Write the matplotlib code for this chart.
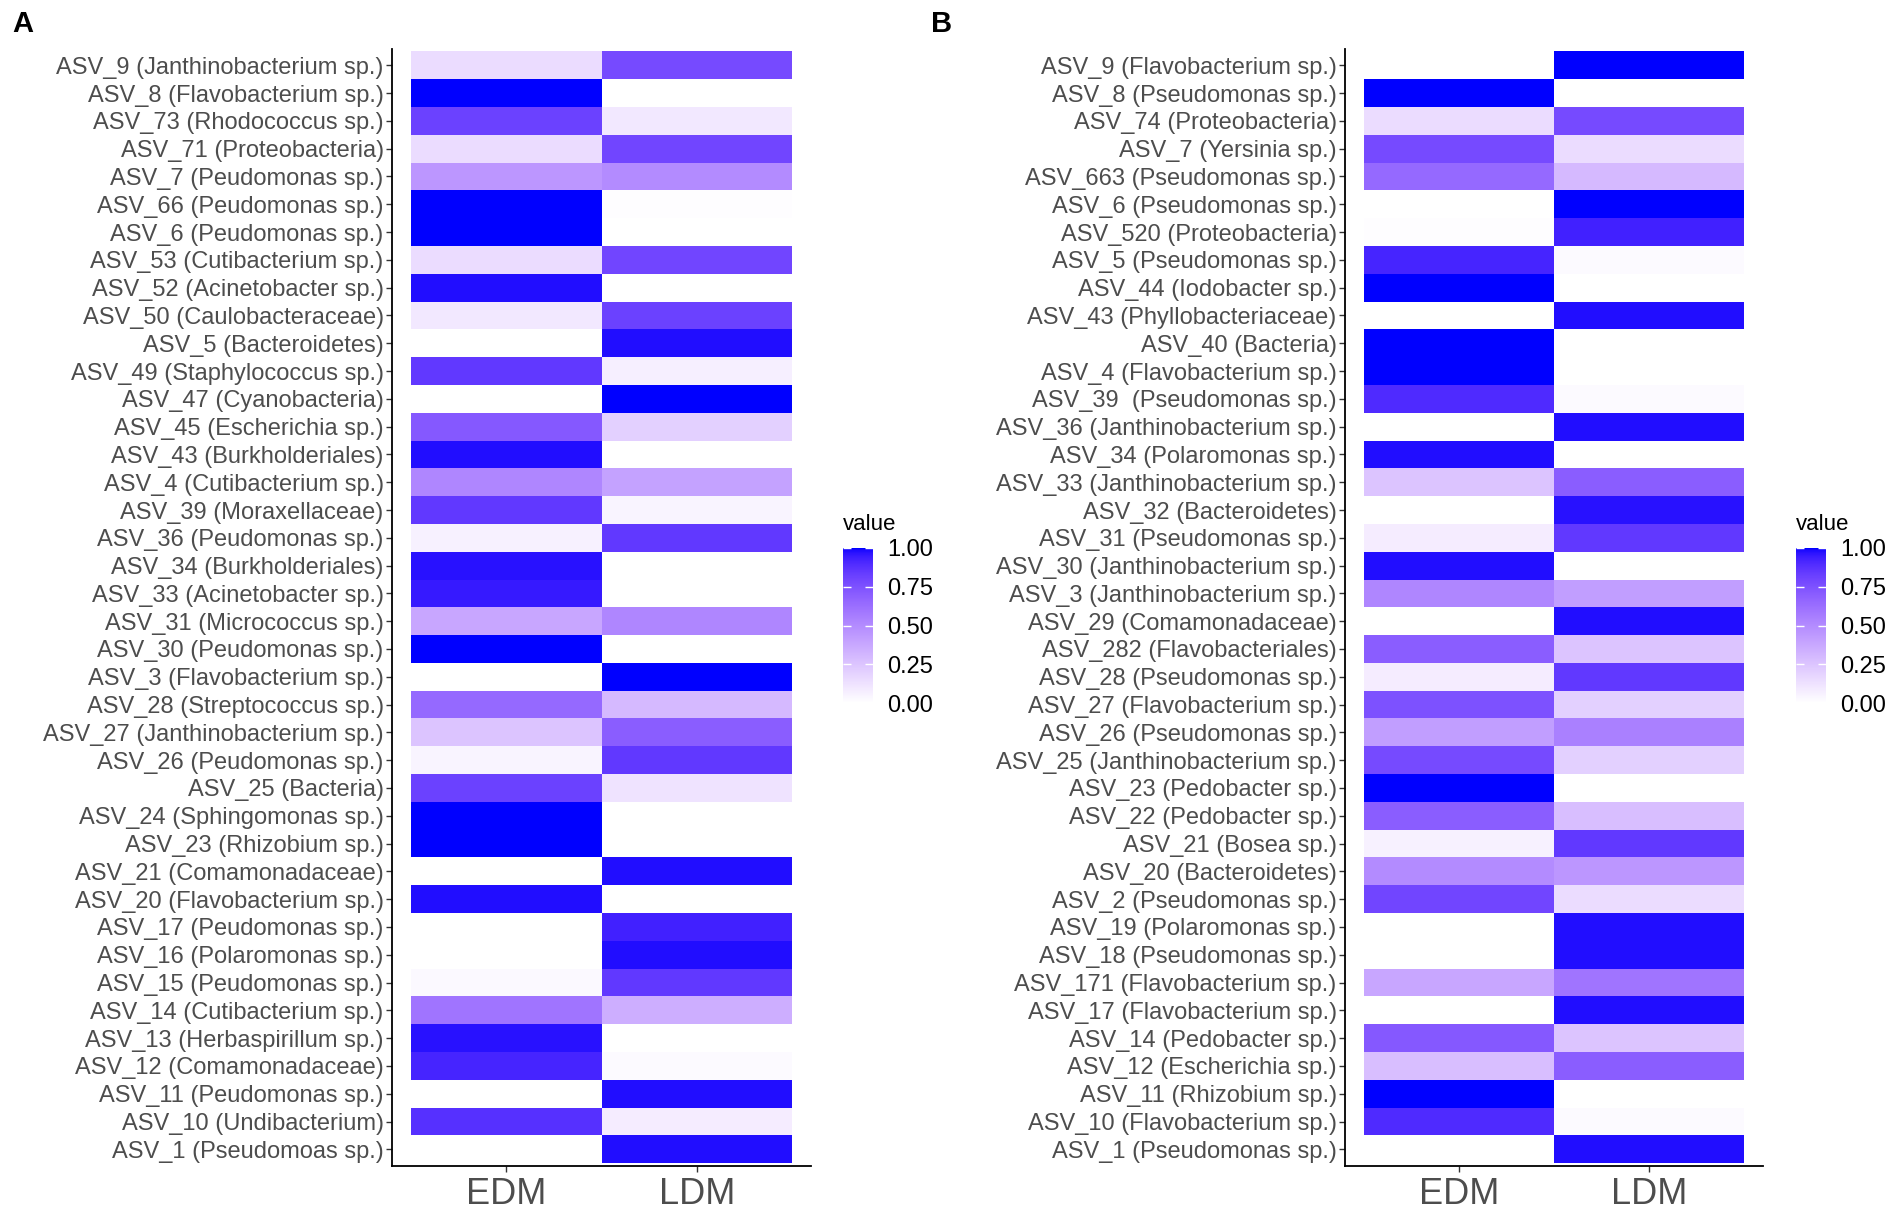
import numpy as np
import matplotlib
matplotlib.use('Agg')
import matplotlib.pyplot as plt
from matplotlib.colors import ListedColormap

plt.rcParams['font.family'] = ['Liberation Sans', 'DejaVu Sans']

# 数据：A 图
labels_a = [
    'ASV_9 (Janthinobacterium sp.)', 'ASV_8 (Flavobacterium sp.)', 'ASV_73 (Rhodococcus sp.)',
    'ASV_71 (Proteobacteria)', 'ASV_7 (Peudomonas sp.)', 'ASV_66 (Peudomonas sp.)',
    'ASV_6 (Peudomonas sp.)', 'ASV_53 (Cutibacterium sp.)', 'ASV_52 (Acinetobacter sp.)',
    'ASV_50 (Caulobacteraceae)', 'ASV_5 (Bacteroidetes)', 'ASV_49 (Staphylococcus sp.)',
    'ASV_47 (Cyanobacteria)', 'ASV_45 (Escherichia sp.)', 'ASV_43 (Burkholderiales)',
    'ASV_4 (Cutibacterium sp.)', 'ASV_39 (Moraxellaceae)', 'ASV_36 (Peudomonas sp.)',
    'ASV_34 (Burkholderiales)', 'ASV_33 (Acinetobacter sp.)', 'ASV_31 (Micrococcus sp.)',
    'ASV_30 (Peudomonas sp.)', 'ASV_3 (Flavobacterium sp.)', 'ASV_28 (Streptococcus sp.)',
    'ASV_27 (Janthinobacterium sp.)', 'ASV_26 (Peudomonas sp.)', 'ASV_25 (Bacteria)',
    'ASV_24 (Sphingomonas sp.)', 'ASV_23 (Rhizobium sp.)', 'ASV_21 (Comamonadaceae)',
    'ASV_20 (Flavobacterium sp.)', 'ASV_17 (Peudomonas sp.)', 'ASV_16 (Polaromonas sp.)',
    'ASV_15 (Peudomonas sp.)', 'ASV_14 (Cutibacterium sp.)', 'ASV_13 (Herbaspirillum sp.)',
    'ASV_12 (Comamonadaceae)', 'ASV_11 (Peudomonas sp.)', 'ASV_10 (Undibacterium)',
    'ASV_1 (Pseudomoas sp.)',
]
edm_a = [0.15, 1.00, 0.82, 0.15, 0.45, 1.00, 1.00, 0.15, 0.98, 0.10,
         0.00, 0.85, 0.00, 0.72, 0.98, 0.52, 0.85, 0.06, 0.97, 0.95,
         0.38, 1.00, 0.00, 0.65, 0.25, 0.05, 0.82, 1.00, 1.00, 0.00,
         0.98, 0.00, 0.00, 0.03, 0.60, 0.97, 0.92, 0.00, 0.88, 0.00]
ldm_a = [0.78, 0.00, 0.10, 0.80, 0.50, 0.01, 0.00, 0.80, 0.00, 0.82,
         0.98, 0.07, 1.00, 0.20, 0.00, 0.40, 0.05, 0.85, 0.00, 0.00,
         0.52, 0.00, 1.00, 0.30, 0.70, 0.85, 0.12, 0.00, 0.00, 0.98,
         0.00, 0.93, 0.98, 0.85, 0.35, 0.00, 0.02, 0.98, 0.08, 0.98]

# 数据：B 图
labels_b = [
    'ASV_9 (Flavobacterium sp.)', 'ASV_8 (Pseudomonas sp.)', 'ASV_74 (Proteobacteria)',
    'ASV_7 (Yersinia sp.)', 'ASV_663 (Pseudomonas sp.)', 'ASV_6 (Pseudomonas sp.)',
    'ASV_520 (Proteobacteria)', 'ASV_5 (Pseudomonas sp.)', 'ASV_44 (Iodobacter sp.)',
    'ASV_43 (Phyllobacteriaceae)', 'ASV_40 (Bacteria)', 'ASV_4 (Flavobacterium sp.)',
    'ASV_39  (Pseudomonas sp.)', 'ASV_36 (Janthinobacterium sp.)', 'ASV_34 (Polaromonas sp.)',
    'ASV_33 (Janthinobacterium sp.)', 'ASV_32 (Bacteroidetes)', 'ASV_31 (Pseudomonas sp.)',
    'ASV_30 (Janthinobacterium sp.)', 'ASV_3 (Janthinobacterium sp.)', 'ASV_29 (Comamonadaceae)',
    'ASV_282 (Flavobacteriales)', 'ASV_28 (Pseudomonas sp.)', 'ASV_27 (Flavobacterium sp.)',
    'ASV_26 (Pseudomonas sp.)', 'ASV_25 (Janthinobacterium sp.)', 'ASV_23 (Pedobacter sp.)',
    'ASV_22 (Pedobacter sp.)', 'ASV_21 (Bosea sp.)', 'ASV_20 (Bacteroidetes)',
    'ASV_2 (Pseudomonas sp.)', 'ASV_19 (Polaromonas sp.)', 'ASV_18 (Pseudomonas sp.)',
    'ASV_171 (Flavobacterium sp.)', 'ASV_17 (Flavobacterium sp.)', 'ASV_14 (Pedobacter sp.)',
    'ASV_12 (Escherichia sp.)', 'ASV_11 (Rhizobium sp.)', 'ASV_10 (Flavobacterium sp.)',
    'ASV_1 (Pseudomonas sp.)',
]
edm_b = [0.00, 1.00, 0.15, 0.78, 0.65, 0.00, 0.01, 0.92, 1.00, 0.00,
         1.00, 1.00, 0.90, 0.00, 0.98, 0.25, 0.00, 0.08, 0.98, 0.52,
         0.00, 0.70, 0.08, 0.75, 0.42, 0.78, 1.00, 0.70, 0.06, 0.50,
         0.80, 0.00, 0.00, 0.38, 0.00, 0.72, 0.28, 1.00, 0.90, 0.00]
ldm_b = [1.00, 0.00, 0.78, 0.15, 0.30, 1.00, 0.93, 0.02, 0.00, 0.98,
         0.00, 0.00, 0.02, 0.98, 0.00, 0.70, 0.97, 0.85, 0.00, 0.42,
         0.98, 0.25, 0.85, 0.20, 0.55, 0.20, 0.00, 0.28, 0.85, 0.45,
         0.15, 0.98, 0.98, 0.60, 0.98, 0.25, 0.70, 0.00, 0.02, 0.98]

groups = ['EDM', 'LDM']


# 白到蓝的渐变，在 Lab 空间插值（与 ggplot 的 scale_fill_gradient 一致）
def srgb_to_lab(rgb):
    rgb = np.asarray(rgb, float)
    lin = np.where(rgb <= 0.04045, rgb / 12.92, ((rgb + 0.055) / 1.055) ** 2.4)
    m = np.array([[0.4124, 0.3576, 0.1805], [0.2126, 0.7152, 0.0722], [0.0193, 0.1192, 0.9505]])
    xyz = m @ lin / np.array([0.95047, 1.0, 1.08883])
    f = np.where(xyz > 0.008856, np.cbrt(xyz), 7.787 * xyz + 16 / 116)
    return np.array([116 * f[1] - 16, 500 * (f[0] - f[1]), 200 * (f[1] - f[2])])


def lab_to_srgb(lab):
    L, a, b = lab
    fy = (L + 16) / 116
    f = np.array([fy + a / 500, fy, fy - b / 200])
    xyz = np.where(f ** 3 > 0.008856, f ** 3, (f - 16 / 116) / 7.787) * np.array([0.95047, 1.0, 1.08883])
    m = np.array([[3.2406, -1.5372, -0.4986], [-0.9689, 1.8758, 0.0415], [0.0557, -0.2040, 1.0570]])
    lin = np.clip(m @ xyz, 0, 1)
    rgb = np.where(lin <= 0.0031308, 12.92 * lin, 1.055 * lin ** (1 / 2.4) - 0.055)
    return np.clip(rgb, 0, 1)


lab_lo = srgb_to_lab([1, 1, 1])
lab_hi = srgb_to_lab([0, 0, 1])
cmap = ListedColormap([lab_to_srgb(lab_lo + (lab_hi - lab_lo) * t) for t in np.linspace(0, 1, 256)])

W, H = 1901, 1211
fig = plt.figure(figsize=(W / 100, H / 100), dpi=100)


def px_axes(x0, y0, x1, y1):
    return fig.add_axes([x0 / W, 1 - y1 / H, (x1 - x0) / W, (y1 - y0) / H])


def draw_panel(ax, labels, edm, ldm):
    vals = np.column_stack([edm, ldm])
    n = len(labels)
    mesh = ax.pcolormesh(np.arange(0.5, 3), np.arange(0.5, n + 1), vals,
                         cmap=cmap, vmin=0, vmax=1, shading='flat')
    ax.set_xlim(0.4, 2.6)
    ax.set_ylim(n + 0.6, 0.4)
    ax.set_xticks([1, 2])
    ax.set_xticklabels(groups, fontsize=26, color='#4d4d4d')
    ax.set_yticks(np.arange(1, n + 1))
    ax.set_yticklabels(labels, fontsize=17, color='#4d4d4d')
    ax.tick_params(axis='both', length=4, width=1, color='#333333')
    ax.tick_params(axis='y', pad=2)
    ax.tick_params(axis='x', pad=4)
    for s in ['top', 'right']:
        ax.spines[s].set_visible(False)
    for s in ['left', 'bottom']:
        ax.spines[s].set_linewidth(1.3)
        ax.spines[s].set_color('black')
    return mesh


def draw_colorbar(mesh, x0, title_y):
    cax = px_axes(x0, 548, x0 + 30, 703)
    cb = fig.colorbar(mesh, cax=cax, ticks=[0, 0.25, 0.5, 0.75, 1])
    cb.outline.set_visible(False)
    cb.ax.set_yticklabels(['0.00', '0.25', '0.50', '0.75', '1.00'], fontsize=17)
    cb.ax.tick_params(direction='in', length=6, width=1, color='white', left=True, right=True, pad=10)
    fig.text(x0 / W, 1 - title_y / H, 'value', fontsize=16, va='center', ha='left')


ax_a = px_axes(392, 48.6, 811, 1166)
mesh_a = draw_panel(ax_a, labels_a, edm_a, ldm_a)
draw_colorbar(mesh_a, 843, 525)

ax_b = px_axes(1345, 48.6, 1762.6, 1166)
mesh_b = draw_panel(ax_b, labels_b, edm_b, ldm_b)
draw_colorbar(mesh_b, 1796, 525)

fig.text(12 / W, 1 - 10 / H, 'A', fontsize=21, fontweight='bold', va='top', ha='left')
fig.text(931 / W, 1 - 10 / H, 'B', fontsize=21, fontweight='bold', va='top', ha='left')

fig.savefig('out.png', dpi=100, facecolor='white')
